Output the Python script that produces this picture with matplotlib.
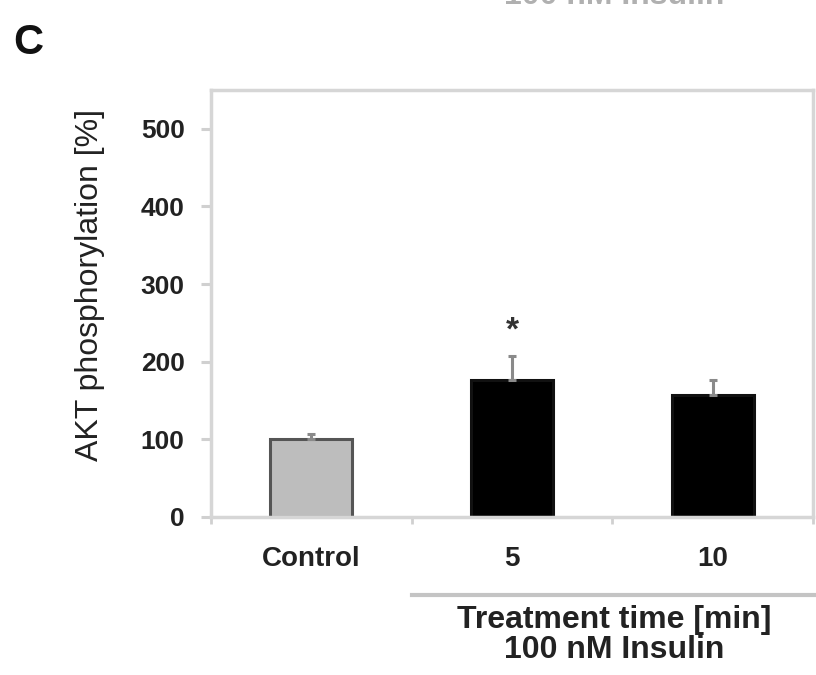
import numpy as np
import matplotlib
matplotlib.use('Agg')
import matplotlib.pyplot as plt
from matplotlib.transforms import blended_transform_factory

plt.rcParams['font.family'] = ['Liberation Sans', 'DejaVu Sans']

categories = ['Control', '5', '10']
values = [100, 177, 157]
errors = [7, 31, 19]
bar_colors = ['#bdbdbd', '#000000', '#000000']
edge_colors = ['#555555', '#111111', '#111111']
significant = [False, True, False]
yticks = [0, 100, 200, 300, 400, 500]

W, H = 816, 675
fig = plt.figure(figsize=(W / 100, H / 100), dpi=100)
# axes box in pixels: left 211, right 813, top 90, bottom 517
ax = fig.add_axes([211 / W, 1 - 517 / H, (813 - 211) / W, (517 - 90) / H])

x = np.arange(len(categories))
ax.bar(x, values, width=0.41, color=bar_colors, edgecolor=edge_colors,
       linewidth=2.2, zorder=2)
ax.errorbar(x, values, yerr=[np.zeros(len(errors)), errors], fmt='none',
            ecolor='#8a8a8a', elinewidth=2.2, capsize=3, capthick=2.2, zorder=3)

for xi, v, e, s in zip(x, values, errors, significant):
    if s:
        ax.text(xi, v + e + 32, '*', ha='center', va='center',
                fontsize=24, fontweight='bold', color='#333333')

ax.set_xlim(-0.5, 2.5)
ax.set_ylim(0, 550)
ax.set_yticks(yticks)
ax.set_yticklabels([str(t) for t in yticks], fontsize=19, fontweight='bold',
                   color='#222222')
ax.set_xticks(x)
ax.set_xticklabels(categories, fontsize=20, fontweight='bold', color='#222222')
ax.set_xticks(np.arange(-0.5, 2.6, 1.0), minor=True)
ax.tick_params(axis='x', which='major', length=0, pad=21)
ax.tick_params(axis='x', which='minor', length=5, width=2, color='#d0d0d0')
ax.tick_params(axis='y', length=7, width=2.2, color='#d0d0d0', pad=12)

for sp in ax.spines.values():
    sp.set_color('#d6d6d6')
    sp.set_linewidth(2.5)

# bracket under the insulin treatment groups
trans = blended_transform_factory(ax.transData, ax.transAxes)
ax.plot([0.5, 2.55], [(517 - 595) / 427] * 2, transform=trans, clip_on=False,
        color='#c4c4c4', linewidth=3)

fig.text(90 / W, 1 - 285 / H, 'AKT phosphorylation [%]', rotation=90,
         ha='center', va='center', fontsize=23, color='#222222')
fig.text(614 / W, 1 - 620 / H, 'Treatment time [min]', ha='center',
         va='center', fontsize=23, fontweight='bold', color='#222222')
fig.text(614 / W, 1 - 650 / H, '100 nM Insulin', ha='center',
         va='center', fontsize=23, fontweight='bold', color='#222222')
fig.text(13 / W, 1 - 54 / H, 'C', ha='left', va='baseline', fontsize=30,
         fontweight='bold', color='#111111')
# cut-off caption from the panel above
fig.text(614 / W, 1 - 4 / H, '100 nM Insulin', ha='center', va='baseline',
         fontsize=23, fontweight='bold', color='#b0b0b0')

fig.savefig('out.png', dpi=100)
